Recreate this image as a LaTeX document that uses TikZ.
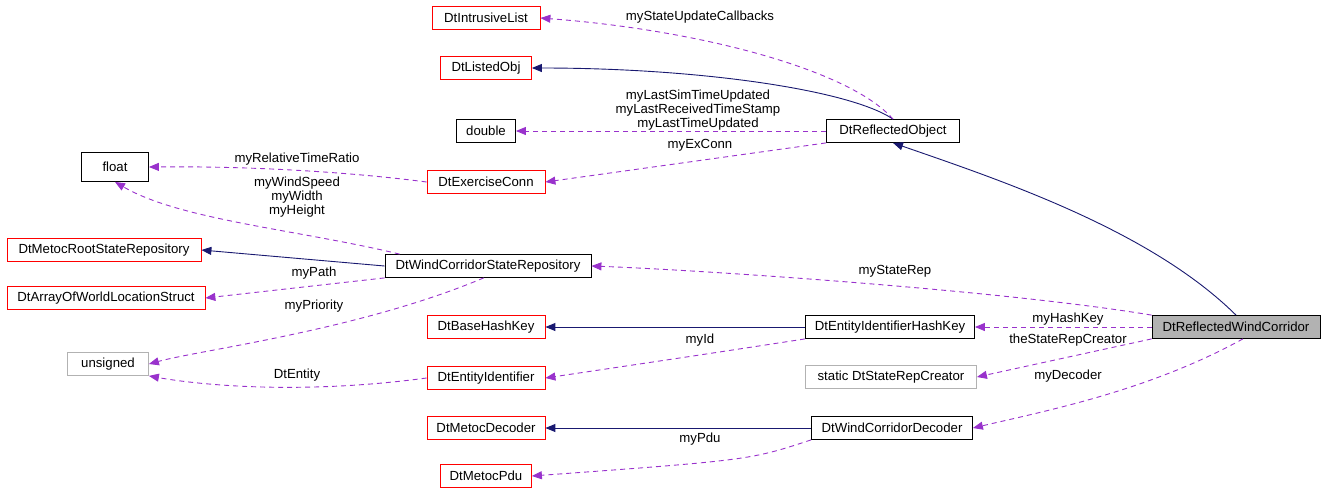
\documentclass[tikz,border=0pt]{standalone}
\usepackage{fontspec}
\setmainfont{Liberation Sans}
\usetikzlibrary{arrows.meta}
\definecolor{nv}{RGB}{25,25,112}
\definecolor{pp}{RGB}{153,50,204}
\begin{document}
\begin{tikzpicture}[x=1pt,y=-1pt,
  font=\fontsize{13.2}{14}\selectfont,
  box/.style={draw=black,fill=white,inner sep=0pt,minimum height=23pt,line width=0.8pt},
  rb/.style={box,draw=red},
  gb/.style={box,draw=black!30},
  inh/.style={draw=nv,line width=0.9pt,-{Triangle[length=10pt,width=8pt]}},
  use/.style={draw=pp,line width=0.9pt,dash pattern=on 5pt off 4pt,-{Triangle[length=10pt,width=8pt]}},
  lab/.style={align=center,inner sep=0pt,font=\fontsize{13.2}{14}\selectfont}]
\useasboundingbox (0,0) rectangle (1325,499);
\node[rb,minimum width=108pt] (il) at (486,18) {DtIntrusiveList};
\node[rb,minimum width=91pt] (lo) at (486,68) {DtListedObj};
\node[box,minimum width=59pt] (db) at (486,131) {double};
\node[box,minimum width=133pt] (ro) at (893,131) {DtReflectedObject};
\node[box,minimum width=67pt,minimum height=29pt] (fl) at (115,167) {float};
\node[rb,minimum width=118pt] (ec) at (486,182) {DtExerciseConn};
\node[rb,minimum width=194pt] (mr) at (104,250) {DtMetocRootStateRepository};
\node[box,minimum width=206pt] (ws) at (488,266) {DtWindCorridorStateRepository};
\node[rb,minimum width=198pt] (aw) at (106,298) {DtArrayOfWorldLocationStruct};
\node[rb,minimum width=118pt] (bh) at (486,327) {DtBaseHashKey};
\node[box,minimum width=169pt] (eh) at (890,327) {DtEntityIdentifierHashKey};
\node[box,fill=black!30,minimum width=168pt] (rw) at (1236,327) {DtReflectedWindCorridor};
\node[gb,minimum width=81pt] (un) at (108,364) {unsigned};
\node[gb,minimum width=171pt] (sc) at (891,377) {static DtStateRepCreator};
\node[rb,minimum width=118pt] (ei) at (486,378) {DtEntityIdentifier};
\node[rb,minimum width=118pt] (md) at (486,428) {DtMetocDecoder};
\node[box,minimum width=161pt] (wd) at (892,428) {DtWindCorridorDecoder};
\node[rb,minimum width=91pt] (mp) at (486,476) {DtMetocPdu};

\draw[inh] (ro.north) .. controls (850,90) and (700,68) .. (lo.east);
\draw[inh] (rw.north) .. controls (1150,230) and (1000,180) .. (ro.south);
\draw[inh] (ws.west) -- (mr.east);
\draw[inh] (eh.west) -- (bh.east);
\draw[inh] (wd.west) -- (md.east);

\draw[use] (ro.north) .. controls (850,70) and (700,30) .. (il.east);
\draw[use] (ro.west) -- (db.east);
\draw[use] (ro.south west) -- (ec.east);
\draw[use] (ec.west) .. controls (350,172) and (250,166) .. (fl.east);
\draw[use] ([xshift=15pt]ws.north west) .. controls (300,230) and (180,220) .. (fl.south);
\draw[use] (ws.south west) -- (aw.east);
\draw[use] (ws.250) .. controls (360,330) and (200,350) .. (un.east);
\draw[use] (ei.west) .. controls (300,395) and (200,385) .. (un.south east);
\draw[use] (rw.north west) .. controls (1000,290) and (700,270) .. (ws.east);
\draw[use] (rw.west) -- (eh.east);
\draw[use] (eh.south west) .. controls (700,355) .. (ei.east);
\draw[use] (rw.south west) -- (sc.east);
\draw[use] (rw.300) .. controls (1150,390) and (1050,410) .. (wd.east);
\draw[use] (wd.south west) .. controls (750,460) .. (mp.east);

\node[lab] at (700,17) {myStateUpdateCallbacks};
\node[lab] at (698,110) {myLastSimTimeUpdated\\myLastReceivedTimeStamp\\myLastTimeUpdated};
\node[lab] at (700,145) {myExConn};
\node[lab] at (297,159) {myRelativeTimeRatio};
\node[lab] at (297,197) {myWindSpeed\\myWidth\\myHeight};
\node[lab] at (314,273) {myPath};
\node[lab] at (314,306) {myPriority};
\node[lab] at (297,375) {DtEntity};
\node[lab] at (895,271) {myStateRep};
\node[lab] at (1068,319) {myHashKey};
\node[lab] at (1068,340) {theStateRepCreator};
\node[lab] at (700,340) {myId};
\node[lab] at (1068,376) {myDecoder};
\node[lab] at (700,439) {myPdu};
\end{tikzpicture}
\end{document}
